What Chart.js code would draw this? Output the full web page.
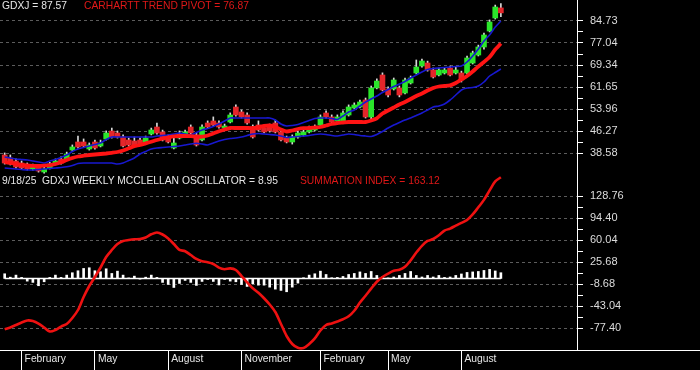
<!DOCTYPE html>
<html><head><meta charset="utf-8">
<script src="https://cdn.jsdelivr.net/npm/chart.js@4/dist/chart.umd.min.js"></script>
<style>
html,body{margin:0;padding:0;background:#000;}
#wrap{position:relative;width:700px;height:370px;background:#000;overflow:hidden;}
#c{position:absolute;left:0;top:0;}
.t{position:absolute;font-family:"Liberation Sans",Arial,sans-serif;font-size:10.3px;line-height:12px;white-space:pre;}
</style></head><body>
<div id="wrap">
<canvas id="c" width="700" height="370"></canvas>
<div class="t" style="left:2px;top:0px;color:#e6e6e6">GDXJ = 87.57</div>
<div class="t" style="left:84px;top:0px;color:#e01818">CARHARTT TREND PIVOT = 76.87</div>
<div class="t" style="left:2px;top:175px;color:#e6e6e6">9/18/25  GDXJ WEEKLY MCCLELLAN OSCILLATOR = 8.95</div>
<div class="t" style="left:300px;top:175px;color:#e01818">SUMMATION INDEX = 163.12</div>
</div>
<script>
// ---- data (weekly, week ending Fri 12 Jan 2024 ... Fri 19 Sep 2025) ----
const monthTickIdx = [3, 16, 29, 42, 56, 68, 81];
const monthTickLabels = ["February", "May", "August", "November", "February", "May", "August"];
const priceTicks = [84.73, 77.04, 69.34, 61.65, 53.96, 46.27, 38.58];
const sumTicks = [128.76, 94.40, 60.04, 25.68, -8.68, -43.04, -77.40];

const open = [37.88,36.83,35.78,35.08,34.39,32.99,33.69,31.94,33.34,34.73,
36.48,36.48,39.63,42.43,42.43,39.98,42.43,41.03,43.48,46.27,
45.57,44.17,43.13,42.78,43.13,42.43,45.22,47.67,45.92,44.17,
40.33,43.83,44.87,47.67,44.87,43.13,49.07,49.77,49.07,47.32,
49.42,54.66,52.92,51.87,47.67,48.37,47.32,48.02,49.07,45.92,
43.83,42.43,44.17,44.87,45.92,46.62,48.37,52.57,51.17,49.77,
49.42,51.87,54.31,54.66,57.11,51.17,61.31,65.85,60.96,60.96,
61.31,59.56,63.05,66.55,69.00,70.04,67.60,65.85,66.55,68.30,
66.55,66.55,66.55,70.04,72.84,75.64,81.23,85.78,89.30];
const high = [38.6,37.9,36.5,35.8,35.1,34.7,34.2,33.7,35.3,36.5,
37.2,38.9,41.4,44.5,43.5,42.1,43.1,43.1,46.3,47.3,
46.3,44.9,43.8,44.2,43.8,44.5,47.3,49.0,46.6,44.9,
43.8,46.3,46.6,48.4,45.6,48.4,49.8,51.2,49.8,48.7,
52.6,55.4,53.6,52.6,48.4,49.8,48.0,48.7,50.1,46.6,
44.5,44.9,46.3,46.6,48.0,48.4,51.9,53.3,51.9,51.9,
53.3,55.4,56.1,57.1,57.8,62.0,64.5,66.6,61.7,64.8,
62.0,64.8,65.5,71.1,71.4,70.7,68.3,68.3,68.3,69.0,
68.6,67.2,72.5,74.2,76.3,80.5,85.1,90.3,90.8];
const low = [34.7,34.4,33.3,32.9,32.6,32.6,31.9,31.5,33.0,34.4,
34.7,36.1,39.3,40.3,40.7,39.6,39.9,40.7,43.1,43.8,
43.8,40.7,41.0,41.0,41.4,42.1,44.9,45.2,42.8,42.1,
40.0,43.5,44.5,45.2,41.0,42.8,47.3,48.0,47.3,47.0,
49.1,51.5,50.8,48.7,43.8,46.3,45.6,45.9,45.6,42.8,
42.1,41.7,43.8,44.5,45.6,46.3,48.0,50.8,49.1,49.4,
49.1,51.5,54.0,54.3,50.8,50.5,61.0,60.3,58.2,60.6,
58.2,59.2,62.7,66.2,68.6,67.2,64.8,65.5,66.2,65.5,
66.2,63.4,66.2,69.7,72.5,74.9,80.9,85.4,86.2];
const close = [35.08,34.73,33.69,33.34,32.99,34.04,32.29,32.99,34.73,35.78,
35.08,38.23,40.68,40.68,41.03,41.38,40.33,42.08,45.57,44.17,
44.17,41.03,41.38,41.38,41.73,43.83,46.62,45.57,43.13,42.43,
42.08,45.22,45.92,45.57,41.38,47.67,47.67,48.37,47.67,48.02,
51.87,51.87,51.17,49.07,44.17,46.62,45.92,46.27,45.92,43.13,
42.43,44.17,45.57,45.92,47.32,47.67,51.17,51.17,49.42,51.17,
52.57,54.66,55.36,56.41,51.17,61.31,63.75,60.61,58.86,64.10,
58.86,64.10,64.80,68.65,70.74,67.60,65.15,67.60,67.60,65.85,
67.60,64.10,71.79,73.54,75.64,79.83,84.38,89.62,87.57];
const upperBand = [37.18,36.83,36.48,36.31,36.13,35.78,35.43,35.09,35.78,36.31,
37.01,37.88,39.11,39.98,40.51,41.03,41.55,42.08,43.30,44.17,
44.17,44.17,44.17,44.17,44.17,44.17,44.17,44.52,44.70,44.87,
45.22,45.57,45.22,44.87,45.75,46.62,47.15,47.84,48.72,49.77,
50.82,50.82,50.82,50.82,50.82,50.82,50.82,50.82,50.12,48.72,
48.02,48.19,48.54,49.24,49.94,50.64,50.82,50.82,50.64,50.29,
51.52,52.91,53.61,55.01,56.41,57.46,58.51,59.73,60.78,61.83,
62.70,63.58,64.80,65.85,66.90,67.77,68.12,68.30,68.47,68.65,
68.82,69.00,70.39,72.49,74.94,77.74,79.83,82.63,84.73];
const trendPivot = [35.36,35.09,34.74,34.39,34.21,34.11,34.04,34.14,34.35,34.74,
35.33,36.13,36.83,37.36,37.64,37.88,38.06,38.23,38.41,38.65,
38.93,39.46,40.22,40.96,41.38,41.97,42.53,43.13,43.65,44.07,
44.42,44.52,44.52,44.45,44.31,44.28,44.70,45.40,46.17,46.80,
47.32,47.32,47.32,47.32,47.32,47.57,48.02,48.19,47.67,46.80,
46.10,46.45,46.97,47.25,47.32,47.50,47.67,48.19,48.72,49.07,
49.24,49.42,49.42,49.42,49.42,49.94,50.71,52.39,53.44,54.49,
55.53,56.41,57.46,58.51,59.38,60.43,61.31,61.83,62.00,62.25,
63.05,64.28,65.50,67.07,68.82,70.39,72.14,74.76,76.87];
const lowerBand = [33.34,33.16,32.99,32.81,32.64,32.64,32.81,32.99,33.16,33.34,
33.51,33.76,34.21,34.91,35.09,35.09,35.09,35.09,35.09,35.09,
34.74,35.09,35.96,36.83,38.23,39.11,39.98,40.33,40.51,40.68,
40.86,41.03,41.38,41.73,41.97,41.73,41.38,42.08,42.78,43.30,
43.65,43.83,44.17,44.70,45.22,45.40,45.22,45.05,44.87,44.52,
44.00,44.17,44.35,44.52,44.70,45.05,45.22,45.05,44.70,44.52,
44.87,45.22,45.05,44.70,44.52,44.35,45.05,46.10,47.32,48.37,
49.24,50.12,50.82,51.69,52.57,53.61,54.66,55.01,55.71,57.11,
58.86,60.61,61.31,61.48,62.00,63.40,65.50,66.72,67.94];
const summation = [-79.3,-76.6,-72.7,-68.8,-65.7,-66.5,-70.4,-76.6,-82.9,-80.5,
-75.1,-71.1,-61.8,-49.3,-29.0,-11.8,2.3,17.1,33.5,44.4,
53.8,58.5,60.0,61.1,61.6,64.0,69.0,71.8,68.6,62.4,
53.8,44.7,42.5,36.6,30.4,26.8,25.4,22.6,16.8,14.3,
15.7,13.2,3.8,-6.0,-15.4,-22.4,-30.9,-40.7,-52.4,-71.1,
-89.9,-102.4,-108.3,-108.6,-102.4,-93.6,-81.3,-72.7,-70.2,-67.2,
-63.8,-59.1,-50.5,-37.6,-27.0,-15.9,-5.2,2.3,7.6,11.9,
13.5,18.2,28.3,40.4,51.0,58.5,61.6,67.4,74.7,77.9,
82.5,86.8,91.3,99.9,111.1,122.7,137.5,151.6,158.0];
const oscillator = [7.3,2.0,5.2,1.6,-4.2,-6.2,-11.4,-5.2,1.6,5.2,
1.6,5.2,8.9,12.0,15.6,16.7,12.0,10.5,15.1,7.8,
11.4,5.2,0.8,3.6,-1.1,2.0,5.2,1.6,-6.2,-9.4,
-14.1,-7.8,-3.1,-6.2,-10.9,-4.7,-1.6,-4.7,-10.2,-1.6,
-4.2,-5.2,-9.4,-12.5,-8.3,-10.5,-10.5,-13.6,-16.7,-18.7,
-20.8,-13.6,-7.3,1.1,5.2,7.3,11.4,6.2,1.1,1.6,
3.1,6.2,7.8,10.2,7.8,10.9,4.7,2.3,0.8,2.3,
4.7,7.8,10.9,4.7,2.3,4.7,2.3,4.7,1.6,2.3,
4.7,7.0,9.4,10.2,10.9,12.5,14.1,11.7,8.95];

// ---- build ----
const FONT = '"Liberation Sans", Arial, sans-serif';
const pts = arr => arr.map((v, i) => ({x: i, y: v}));
const GREEN = '#2ae62a', RED = '#e4262a';

function minorize(majors) {
  const s = majors.slice().sort((a, b) => a - b);
  const out = [];
  for (let k = 0; k < s.length; k++) {
    out.push({value: s[k]});
    if (k < s.length - 1) out.push({value: (s[k] + s[k + 1]) / 2});
  }
  return out;
}
const isMajor = (list, v) => list.some(t => Math.abs(t - v) < 1e-6);

function yAxis(list, min, max) {
  return {
    type: 'linear', position: 'right', stack: 'panes', stackWeight: 1,
    min: min, max: max,
    afterBuildTicks: s => { s.ticks = minorize(list); },
    afterFit: s => { s.width = 123; s.paddingTop = 0; s.paddingBottom = 0; },
    ticks: {
      autoSkip: false, padding: 7, color: '#dcdcdc',
      font: {family: FONT, size: 11},
      callback: v => isMajor(list, v) ? Number(v).toFixed(2) : ''
    },
    grid: {
      drawOnChartArea: true, drawTicks: true, tickLength: 6, offset: false,
      color: c => (c.tick && isMajor(list, c.tick.value)) ? '#5c5c5c' : 'rgba(0,0,0,0)',
      tickColor: '#ffffff', tickWidth: 1, tickBorderDash: [], lineWidth: 1
    },
    border: {display: true, color: '#ffffff', width: 1, dash: [3, 3]}
  };
}

const frame = {
  id: 'frame',
  afterDraw(chart) {
    const {ctx, chartArea} = chart;
    ctx.save();
    ctx.strokeStyle = '#ffffff';
    ctx.lineWidth = 1;
    ctx.beginPath();
    ctx.moveTo(0, Math.round(chartArea.bottom) + 0.5);
    ctx.lineTo(chart.width, Math.round(chartArea.bottom) + 0.5);
    ctx.stroke();
    ctx.restore();
  }
};

new Chart(document.getElementById('c'), {
  type: 'bar',
  data: {
    datasets: [
      {type: 'line', label: 'Summation', data: pts(summation), yAxisID: 'yS',
       borderColor: '#ee1111', borderWidth: 2.6, pointRadius: 0, tension: 0.3, order: 1},
      {type: 'line', label: 'Zero', data: pts(oscillator.map(() => 0)), yAxisID: 'yS',
       borderColor: '#ffffff', borderWidth: 1.5, pointRadius: 0, order: 3},
      {type: 'bar', label: 'Oscillator', data: pts(oscillator), yAxisID: 'yS',
       backgroundColor: '#ffffff', barThickness: 2, grouped: false, order: 4},
      {type: 'line', label: 'Trend pivot', data: pts(trendPivot), yAxisID: 'yP',
       borderColor: '#ff1414', borderWidth: 3.8, pointRadius: 0, tension: 0.2, order: 2},
      {type: 'line', label: 'Upper', data: pts(upperBand), yAxisID: 'yP',
       borderColor: '#1818d0', borderWidth: 1.6, pointRadius: 0, tension: 0.2, order: 2},
      {type: 'line', label: 'Lower', data: pts(lowerBand), yAxisID: 'yP',
       borderColor: '#1818d0', borderWidth: 1.6, pointRadius: 0, tension: 0.2, order: 2},
      {type: 'bar', label: 'Bodies', data: open.map((o, i) => ({x: i, y: [o, close[i]]})), yAxisID: 'yP',
       backgroundColor: c => (close[c.dataIndex] >= open[c.dataIndex] ? GREEN : RED),
       barThickness: 5, grouped: false, order: 6},
      {type: 'bar', label: 'Wicks', data: low.map((l, i) => ({x: i, y: [l, high[i]]})), yAxisID: 'yP',
       backgroundColor: '#d8d8d8', barThickness: 1, grouped: false, order: 7}
    ]
  },
  options: {
    responsive: false, animation: false, devicePixelRatio: 1,
    layout: {padding: 0},
    plugins: {legend: {display: false}, tooltip: {enabled: false}},
    scales: {
      x: {
        type: 'linear', position: 'bottom', min: -0.83, max: 101.5, offset: false,
        afterBuildTicks: s => { s.ticks = monthTickIdx.map(v => ({value: v})); },
        afterFit: s => { s.height = 20; s.paddingLeft = 0; s.paddingRight = 0; },
        ticks: {
          autoSkip: false, maxRotation: 0, align: 'start', labelOffset: 3, padding: -17,
          color: '#e6e6e6', font: {family: FONT, size: 10.3},
          callback: v => { const k = monthTickIdx.indexOf(Math.round(v)); return k >= 0 ? monthTickLabels[k] : ''; }
        },
        grid: {drawOnChartArea: false, drawTicks: true, offset: false, tickLength: 20, tickColor: '#ffffff', color: '#ffffff', tickWidth: 1},
        border: {display: true, color: '#ffffff', width: 1}
      },
      yP: yAxis(priceTicks, 30.89, 92.07),
      yS: yAxis(sumTicks, -111.76, 161.56)
    }
  },
  plugins: [frame]
});
</script>
</body></html>
